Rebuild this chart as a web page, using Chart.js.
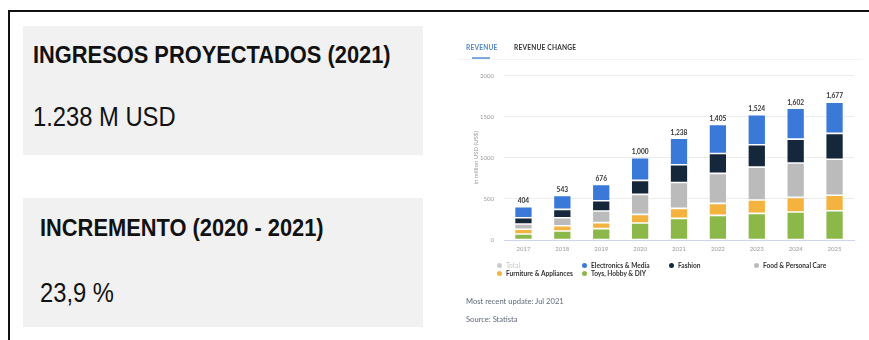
<!DOCTYPE html>
<html lang="es">
<head>
<meta charset="utf-8">
<script src="https://cdn.jsdelivr.net/npm/chart.js@4/dist/chart.umd.min.js"></script>
<style>
  html, body { margin: 0; padding: 0; background: #fff; }
  body { width: 869px; height: 340px; position: relative; overflow: hidden; font-family: "Liberation Sans", Arial, sans-serif; }
  .frame { position: absolute; left: 8px; top: 10px; width: 861px; height: 340px; border-top: 2px solid #111; border-left: 2px solid #111; box-sizing: border-box; }
  .panel { position: absolute; left: 23px; width: 400px; height: 129px; background: #f1f1f1; }
  .txt { position: absolute; white-space: nowrap; color: #111; line-height: 1; transform-origin: 0 0; }
  .kpi-title { font-size: 24px; font-weight: 700; transform: scaleX(0.91); }
  .kpi-value { font-size: 27px; font-weight: 400; transform: scaleX(0.88); }
  .statbox { position: absolute; left: 458px; top: 30px; width: 405px; height: 305px; font-family: Lato, "Open Sans", sans-serif; filter: blur(0.3px); }
  .tab { position: absolute; top: 13px; font-size: 6.6px; font-weight: 700; letter-spacing: 0.2px; }
  .tab.on { left: 8px; color: #4f86c9; }
  .tab.off { left: 56px; color: #333; }
  .tab-bar { position: absolute; left: 14px; top: 27px; width: 18px; height: 1.5px; background: #7fa8da; }
  .tab-line { position: absolute; left: 0; top: 29px; width: 405px; height: 1px; background: #f2f2f2; }
  #chartBox { position: absolute; left: 2px; top: 32px; }
  .legend { position: absolute; left: 39px; top: 231px; display: grid; grid-template-columns: 85px 87px 85px 90px; grid-auto-rows: 8px; }
  .legend .item { display: flex; align-items: center; font-size: 6.6px; font-weight: 700; color: #333; white-space: nowrap; }
  .legend .item.off { color: #c8c8c8; font-weight: 400; }
  .legend .dot { width: 5px; height: 5px; border-radius: 50%; margin-right: 4px; flex: none; }
  .note { position: absolute; left: 8px; font-size: 7.6px; color: #5f6b79; white-space: nowrap; }
</style>
</head>
<body>
<div class="frame"></div>

<div class="panel" style="top:26px"></div>
<div class="txt kpi-title" style="left:33px; top:43px">INGRESOS PROYECTADOS (2021)</div>
<div class="txt kpi-value" style="left:33px; top:104px">1.238 M USD</div>

<div class="panel" style="top:198px"></div>
<div class="txt kpi-title" style="left:40px; top:216px">INCREMENTO (2020 - 2021)</div>
<div class="txt kpi-value" style="left:40px; top:280px">23,9 %</div>

<div class="statbox">
  <div class="tab on">REVENUE</div>
  <div class="tab off">REVENUE CHANGE</div>
  <div class="tab-bar"></div>
  <div class="tab-line"></div>
  <div id="chartBox"><canvas id="revenue" width="396" height="194"></canvas></div>
  <div class="legend" id="legend"></div>
  <div class="note" style="top:266px">Most recent update: Jul 2021</div>
  <div class="note" style="top:284px">Source: Statista</div>
</div>

<script>
// Years shown on the x axis
const years = ['2017', '2018', '2019', '2020', '2021', '2022', '2023', '2024', '2025'];

// Revenue by segment, in million USD
const toysHobbyDiy        = [73, 109, 138, 207, 263, 300, 324, 340, 355];
const furnitureAppliances = [57,  65,  73, 105, 122, 145, 162, 178, 190];
const foodPersonalCare    = [64,  97, 141, 243, 315, 365, 401, 418, 437];
const fashion             = [77, 102, 126, 170, 215, 243, 271, 291, 315];
const electronicsMedia    = [133, 170, 198, 275, 323, 352, 366, 375, 380];

// Total revenue per year (printed above each stack)
const totals = [404, 543, 676, 1000, 1238, 1405, 1524, 1602, 1677];

// Y axis tick values
const yTicks = [0, 500, 1000, 1500, 2000];

const segments = [
  { label: 'Toys, Hobby & DIY',      data: toysHobbyDiy,        color: '#8cb84a' },
  { label: 'Furniture & Appliances', data: furnitureAppliances, color: '#f4b23f' },
  { label: 'Food & Personal Care',   data: foodPersonalCare,    color: '#bbbbbb' },
  { label: 'Fashion',                data: fashion,             color: '#14273b' },
  { label: 'Electronics & Media',    data: electronicsMedia,    color: '#3b79d8' }
];

const tickFont = { family: 'Lato', size: 6 };

// Writes each year's total above its stack
const totalLabels = {
  id: 'totalLabels',
  afterDatasetsDraw(chart) {
    const { ctx, scales } = chart;
    ctx.save();
    ctx.font = '700 6.6px Lato';
    ctx.fillStyle = '#333';
    ctx.textAlign = 'center';
    ctx.textBaseline = 'bottom';
    totals.forEach((t, i) => {
      const x = scales.x.getPixelForValue(i);
      const y = scales.y.getPixelForValue(t);
      ctx.fillText(t.toLocaleString('en-US'), x, y - 2.5);
    });
    ctx.restore();
  }
};

const chart = new Chart(document.getElementById('revenue'), {
  type: 'bar',
  data: {
    labels: years,
    datasets: segments.map(s => ({
      label: s.label,
      data: s.data,
      backgroundColor: s.color,
      borderColor: 'rgba(255,255,255,0.55)',
      borderWidth: 0.8,
      borderSkipped: false,
      barPercentage: 0.46,
      categoryPercentage: 1
    }))
  },
  options: {
    responsive: false,
    devicePixelRatio: 1,
    animation: false,
    layout: { padding: { top: 13, right: 2, left: 0, bottom: 0 } },
    plugins: { legend: { display: false }, tooltip: { enabled: false } },
    scales: {
      x: {
        stacked: true,
        grid: { display: false, drawTicks: false },
        border: { color: '#ccd6eb', width: 1 },
        ticks: { color: '#9a9a9a', font: tickFont, padding: 5 },
        afterFit(scale) { scale.height = 16; }
      },
      y: {
        stacked: true,
        min: 0,
        max: 2000,
        afterBuildTicks(scale) { scale.ticks = yTicks.map(v => ({ value: v })); },
        grid: { color: '#ececec', drawTicks: false },
        border: { display: false },
        ticks: { color: '#9a9a9a', font: tickFont, padding: 10, callback: v => String(v) },
        title: { display: true, text: 'in million USD (US$)', color: '#9a9a9a', font: { family: 'Lato', size: 6 }, padding: { top: 12, bottom: 0 } },
        afterFit(scale) { scale.width = 44; }
      }
    }
  },
  plugins: [totalLabels]
});

// Legend: hidden total entry first, then the segments alphabetically
const legendEntries = [{ label: 'Total', color: '#cccccc', off: true }]
  .concat(chart.data.datasets
    .map(d => ({ label: d.label, color: d.backgroundColor, off: false }))
    .sort((a, b) => a.label.localeCompare(b.label)));

const legendEl = document.getElementById('legend');
legendEntries.forEach(e => {
  const item = document.createElement('div');
  item.className = 'item' + (e.off ? ' off' : '');
  const dot = document.createElement('span');
  dot.className = 'dot';
  dot.style.background = e.color;
  item.appendChild(dot);
  item.appendChild(document.createTextNode(e.label));
  legendEl.appendChild(item);
});
</script>
</body>
</html>
